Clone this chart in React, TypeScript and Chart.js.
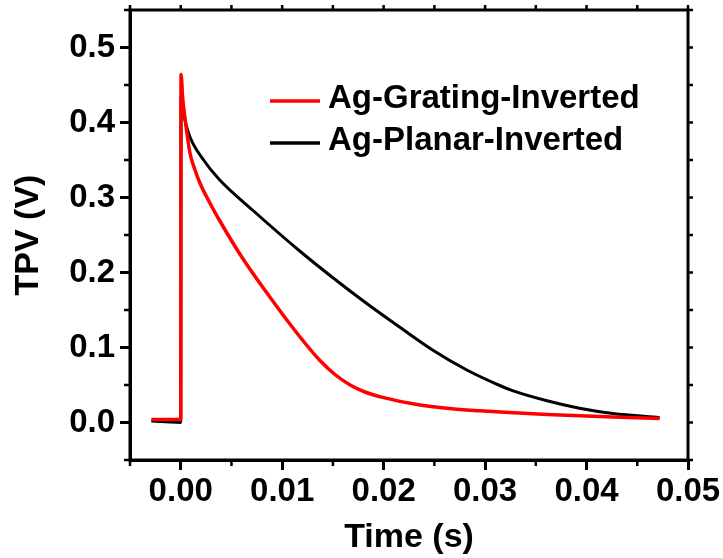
import React, { useEffect, useRef } from "react";
import { Chart, registerables } from "chart.js";

Chart.register(...registerables);

// Ag-Grating-Inverted (red)
const TIME_RED = [-0.0029, -0.0015, 0, 0.00003, 0.0002, 0.0004, 0.0009, 0.0014, 0.0019, 0.0029, 0.0038, 0.006, 0.0088, 0.0117, 0.0137, 0.0152, 0.0167, 0.0181, 0.0199, 0.0233, 0.0265, 0.0295, 0.0315, 0.0361, 0.0426, 0.0472];
const TPV_RED = [0.004, 0.004, 0.004, 0.464, 0.431, 0.408, 0.36, 0.337, 0.319, 0.292, 0.27, 0.221, 0.167, 0.115, 0.083, 0.064, 0.05, 0.041, 0.0335, 0.024, 0.0187, 0.0156, 0.0139, 0.0107, 0.0073, 0.0053];

// Ag-Planar-Inverted (black)
const TIME_BLACK = [-0.0029, -0.0015, 0, 0.00003, 0.0002, 0.0004, 0.0009, 0.0022, 0.0038, 0.0071, 0.0117, 0.015, 0.0183, 0.0216, 0.0249, 0.0282, 0.0315, 0.0327, 0.0361, 0.0393, 0.0426, 0.0472];
const TPV_BLACK = [0.002, 0.001, 0.0, 0.435, 0.417, 0.404, 0.381, 0.351, 0.324, 0.283, 0.229, 0.193, 0.159, 0.127, 0.096, 0.07, 0.049, 0.0425, 0.029, 0.019, 0.012, 0.0065];

const SERIES_NAMES = ["Ag-Grating-Inverted", "Ag-Planar-Inverted"];
const SERIES_COLORS = ["#ff0000", "#000000"];

const X_TICKS = [0, 0.01, 0.02, 0.03, 0.04, 0.05];
const X_MINOR = [-0.005, 0.005, 0.015, 0.025, 0.035, 0.045];
const Y_TICKS = [0, 0.1, 0.2, 0.3, 0.4, 0.5];
const Y_MINOR = [-0.05, 0.05, 0.15, 0.25, 0.35, 0.45, 0.55];

const X_TITLE = "Time (s)";
const Y_TITLE = "TPV (V)";

const FONT_FAMILY = "'Liberation Sans', Arial, sans-serif";

const framePlugin = {
  id: "frame",
  afterDraw(chart: any) {
    const { ctx, chartArea } = chart;
    const xs = chart.scales.x;
    const ys = chart.scales.y;
    const { left, right, top, bottom } = chartArea;
    ctx.save();
    ctx.strokeStyle = "#000";
    ctx.lineWidth = 3;
    ctx.strokeRect(left, top, right - left, bottom - top);
    ctx.lineWidth = 2.5;
    ctx.beginPath();
    X_MINOR.forEach((v) => {
      const px = xs.getPixelForValue(v);
      ctx.moveTo(px, bottom);
      ctx.lineTo(px, bottom + 6);
    });
    Y_MINOR.forEach((v) => {
      const py = ys.getPixelForValue(v);
      ctx.moveTo(left, py);
      ctx.lineTo(left - 6, py);
    });
    [...X_TICKS, ...X_MINOR].forEach((v) => {
      const px = xs.getPixelForValue(v);
      ctx.moveTo(px, top);
      ctx.lineTo(px, top - 5);
    });
    [...Y_TICKS, ...Y_MINOR].forEach((v) => {
      const py = ys.getPixelForValue(v);
      ctx.moveTo(right, py);
      ctx.lineTo(right + 5, py);
    });
    ctx.stroke();

    const rows = [101, 143];
    ctx.font = `bold 33px ${FONT_FAMILY}`;
    ctx.textBaseline = "alphabetic";
    ctx.textAlign = "left";
    SERIES_NAMES.forEach((name, i) => {
      const y = rows[i];
      ctx.strokeStyle = SERIES_COLORS[i];
      ctx.lineWidth = 3.5;
      ctx.beginPath();
      ctx.moveTo(270, y);
      ctx.lineTo(320, y);
      ctx.stroke();
      ctx.fillStyle = "#000";
      ctx.fillText(name, 328, y + 7);
    });
    ctx.restore();
  },
};

export default function App() {
  const ref = useRef<HTMLCanvasElement | null>(null);

  useEffect(() => {
    if (!ref.current) return;
    const red = TIME_RED.map((t, i) => ({ x: t, y: TPV_RED[i] }));
    const black = TIME_BLACK.map((t, i) => ({ x: t, y: TPV_BLACK[i] }));
    const tickFont = { family: FONT_FAMILY, size: 33, weight: "bold" };
    const chart = new Chart(ref.current, {
      type: "line",
      data: {
        datasets: [
          {
            label: SERIES_NAMES[0],
            data: red,
            borderColor: SERIES_COLORS[0],
            borderWidth: 3.5,
            pointRadius: 0,
            cubicInterpolationMode: "monotone",
            fill: false,
          },
          {
            label: SERIES_NAMES[1],
            data: black,
            borderColor: SERIES_COLORS[1],
            borderWidth: 3,
            pointRadius: 0,
            cubicInterpolationMode: "monotone",
            fill: false,
          },
        ],
      },
      options: {
        responsive: false,
        animation: false,
        layout: { padding: { left: 0, right: 35, top: 10, bottom: 0 } },
        plugins: {
          legend: { display: false },
          tooltip: { enabled: false },
        },
        scales: {
          x: {
            type: "linear",
            min: -0.005,
            max: 0.05,
            afterBuildTicks: (s: any) => {
              s.ticks = X_TICKS.map((v) => ({ value: v }));
            },
            afterFit: (s: any) => {
              s.height = 98;
              s.paddingLeft = 0;
              s.paddingRight = 0;
            },
            ticks: {
              color: "#000",
              font: tickFont,
              padding: 2,
              maxRotation: 0,
              callback: (v: any) => Number(v).toFixed(2),
            },
            grid: {
              drawOnChartArea: false,
              drawTicks: true,
              tickLength: 10,
              color: "#000",
              lineWidth: 3,
            },
            border: { display: true, color: "#000", width: 3 },
            title: {
              display: true,
              text: X_TITLE,
              color: "#000",
              font: { family: FONT_FAMILY, size: 34, weight: "bold" },
              padding: { top: 6, bottom: 0 },
            },
          },
          y: {
            type: "linear",
            min: -0.05,
            max: 0.55,
            afterBuildTicks: (s: any) => {
              s.ticks = Y_TICKS.map((v) => ({ value: v }));
            },
            afterFit: (s: any) => {
              s.width = 130;
              s.paddingTop = 0;
              s.paddingBottom = 0;
            },
            ticks: {
              color: "#000",
              font: tickFont,
              padding: 5,
              callback: (v: any) => Number(v).toFixed(1),
            },
            grid: {
              drawOnChartArea: false,
              drawTicks: true,
              tickLength: 10,
              color: "#000",
              lineWidth: 3,
            },
            border: { display: true, color: "#000", width: 3 },
            title: {
              display: true,
              text: Y_TITLE,
              color: "#000",
              font: { family: FONT_FAMILY, size: 34, weight: "bold" },
              padding: { top: 8, bottom: 0 },
            },
          },
        },
      },
      plugins: [framePlugin],
    } as any);
    return () => chart.destroy();
  }, []);

  return (
    <div style={{ position: "absolute", left: 0, top: 0, width: 723, height: 558, background: "#fff" }}>
      <canvas ref={ref} width={723} height={558} style={{ width: 723, height: 558, display: "block" }} />
    </div>
  );
}
